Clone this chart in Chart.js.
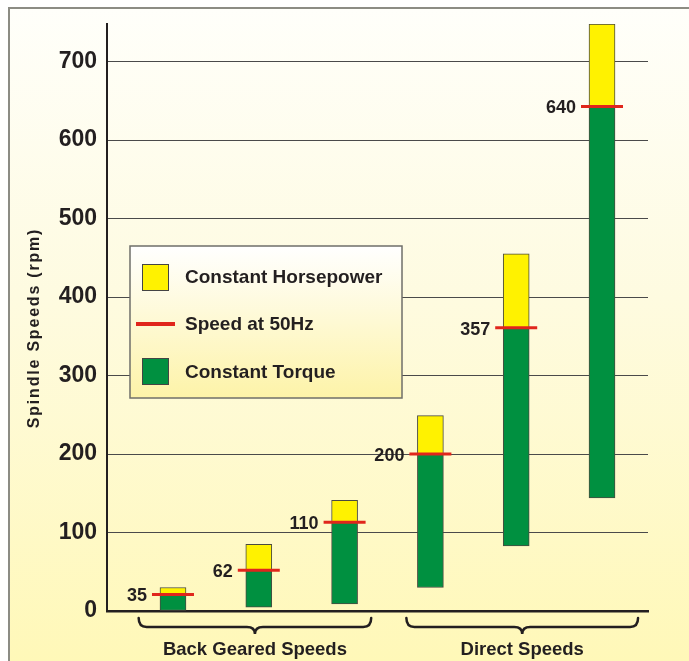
<!DOCTYPE html>
<html>
<head>
<meta charset="utf-8">
<script src="https://cdn.jsdelivr.net/npm/chart.js@4.4.1/dist/chart.umd.min.js"></script>
<style>
  body { margin: 0; background: #fff; }
  canvas { display: block; }
</style>
</head>
<body>
<canvas id="speedChart" width="689" height="661"></canvas>
<script>
// spindle speed ranges, rpm
const steps = [0, 1, 2, 3, 4, 5];
const minSpeed = [0, 5, 9, 30, 83, 144];
const speed50Hz = [21, 52, 113, 200, 361, 643];
const maxSpeed = [30, 85, 141, 249, 455, 748];
const speedLabels = ['35', '62', '110', '200', '357', '640'];
const yTicks = [0, 100, 200, 300, 400, 500, 600, 700];
const groupNames = ['Back Geared Speeds', 'Direct Speeds'];
const groupFirst = [0, 3];
const groupLast = [2, 5];

const YELLOW = '#fff200';
const GREEN = '#009040';
const RED = '#e0261c';
const INK = '#231f20';

const torque = steps.map((s, i) => ({ x: s, y: [minSpeed[i], speed50Hz[i]] }));
const horsepower = steps.map((s, i) => ({ x: s, y: [speed50Hz[i], maxSpeed[i]] }));
const hzMarks = steps.map((s, i) => ({ x: s, y: speed50Hz[i] }));

const backdrop = {
  id: 'backdrop',
  beforeDraw(chart) {
    const c = chart.ctx;
    const g = c.createLinearGradient(0, 0, 0, chart.height);
    g.addColorStop(0, '#fffffb');
    g.addColorStop(0.45, '#fefbe0');
    g.addColorStop(1, '#fff8b8');
    c.save();
    c.fillStyle = g;
    c.fillRect(10, 9, chart.width, chart.height);
    c.strokeStyle = '#8c8c84';
    c.lineWidth = 2;
    c.beginPath();
    c.moveTo(9, chart.height + 5);
    c.lineTo(9, 8);
    c.lineTo(chart.width + 5, 8);
    c.stroke();

    // y axis title
    c.translate(35, 328);
    c.rotate(-Math.PI / 2);
    c.font = 'bold 16px "Liberation Sans", Arial, sans-serif';
    c.letterSpacing = '1.8px';
    c.fillStyle = INK;
    c.textAlign = 'center';
    c.textBaseline = 'middle';
    c.fillText('Spindle Speeds (rpm)', 0, 0);
    c.restore();
  }
};

function brace(c, x1, x2, y) {
  const r = 8, mid = (x1 + x2) / 2;
  c.beginPath();
  c.moveTo(x1, y - 9);
  c.quadraticCurveTo(x1, y, x1 + r, y);
  c.lineTo(mid - r, y);
  c.quadraticCurveTo(mid, y, mid, y + 7);
  c.quadraticCurveTo(mid, y, mid + r, y);
  c.lineTo(x2 - r, y);
  c.quadraticCurveTo(x2, y, x2, y - 9);
  c.stroke();
}

const overlay = {
  id: 'overlay',
  afterDatasetsDraw(chart) {
    const c = chart.ctx;
    const xs = chart.scales.x;
    c.save();

    // value labels next to the 50Hz marks
    const marks = chart.getDatasetMeta(2).data;
    c.font = 'bold 18px "Liberation Sans", Arial, sans-serif';
    c.fillStyle = INK;
    c.textAlign = 'right';
    c.textBaseline = 'middle';
    marks.forEach((p, i) => {
      c.fillText(speedLabels[i], p.x - 26, p.y + 2);
    });

    // group braces and names (brace ends sit a little off the outer bars)
    const padL = [0.4, 0.28], padR = [0.31, 0.42];
    c.strokeStyle = INK;
    c.lineWidth = 2.5;
    c.lineCap = 'round';
    c.font = 'bold 18.5px "Liberation Sans", Arial, sans-serif';
    c.textAlign = 'center';
    c.textBaseline = 'alphabetic';
    groupNames.forEach((name, k) => {
      const x1 = xs.getPixelForValue(groupFirst[k] - padL[k]);
      const x2 = xs.getPixelForValue(groupLast[k] + padR[k]);
      brace(c, x1, x2, 627);
      c.fillText(name, (x1 + x2) / 2, 655);
    });

    // legend box
    const bx = 130, by = 246, bw = 272, bh = 152;
    const g = c.createLinearGradient(0, by, 0, by + bh);
    g.addColorStop(0, '#ffffff');
    g.addColorStop(1, '#fdf3a8');
    c.fillStyle = g;
    c.fillRect(bx, by, bw, bh);
    c.strokeStyle = '#6f6f6a';
    c.lineWidth = 1.5;
    c.strokeRect(bx, by, bw, bh);

    c.lineWidth = 1;
    c.strokeStyle = '#444';
    c.fillStyle = YELLOW;
    c.fillRect(142.5, 264.5, 26, 26);
    c.strokeRect(142.5, 264.5, 26, 26);
    c.fillStyle = GREEN;
    c.fillRect(142.5, 358.5, 26, 26);
    c.strokeRect(142.5, 358.5, 26, 26);
    c.fillStyle = RED;
    c.fillRect(136, 322, 39, 4);

    c.fillStyle = INK;
    c.font = 'bold 19px "Liberation Sans", Arial, sans-serif';
    c.textAlign = 'left';
    c.textBaseline = 'middle';
    c.fillText('Constant Horsepower', 185, 278);
    c.fillText('Speed at 50Hz', 185, 325);
    c.fillText('Constant Torque', 185, 373);
    c.restore();
  }
};

new Chart(document.getElementById('speedChart').getContext('2d'), {
  type: 'bar',
  data: {
    datasets: [
      {
        label: 'Constant Torque',
        data: torque,
        backgroundColor: GREEN,
        borderColor: '#4a4a40',
        borderWidth: 1,
        borderSkipped: false,
        barThickness: 26,
        grouped: false,
        order: 2
      },
      {
        label: 'Constant Horsepower',
        data: horsepower,
        backgroundColor: YELLOW,
        borderColor: '#4a4a40',
        borderWidth: 1,
        borderSkipped: false,
        barThickness: 26,
        grouped: false,
        order: 2
      },
      {
        type: 'line',
        label: 'Speed at 50Hz',
        data: hzMarks,
        showLine: false,
        pointStyle: 'line',
        pointRadius: 21,
        pointHoverRadius: 21,
        pointBorderWidth: 3,
        pointBorderColor: RED,
        order: 0
      }
    ]
  },
  options: {
    responsive: false,
    animation: false,
    events: [],
    layout: { padding: { top: 21, right: 41, bottom: 0, left: 0 } },
    plugins: {
      legend: { display: false },
      tooltip: { enabled: false }
    },
    scales: {
      x: {
        type: 'linear',
        offset: false,
        min: -0.769,
        max: 5.536,
        ticks: { display: false },
        grid: { display: false, offset: false },
        border: { color: INK, width: 2.5 },
        afterFit(scale) { scale.height = 50; }
      },
      y: {
        min: 0,
        max: 748,
        afterBuildTicks(scale) {
          scale.ticks = yTicks.map(v => ({ value: v }));
        },
        ticks: {
          padding: 10,
          color: INK,
          font: { family: '"Liberation Sans", Arial, sans-serif', size: 23, weight: 'bold' }
        },
        grid: { color: '#4a4a4a', lineWidth: 1, drawTicks: false },
        border: { color: INK, width: 2 },
        afterFit(scale) { scale.width = 107; }
      }
    }
  },
  plugins: [backdrop, overlay]
});
</script>
</body>
</html>
